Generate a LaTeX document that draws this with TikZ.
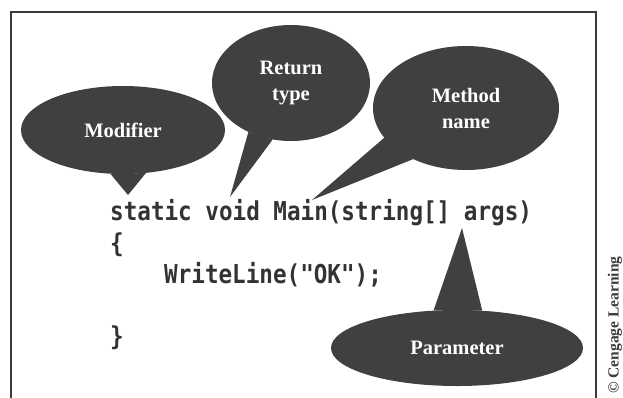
\documentclass[tikz,border=0pt]{standalone}
\usepackage{fontspec}
\setmainfont{Liberation Serif}
\newfontfamily\codefont{DejaVu Sans Mono}
\usetikzlibrary{shapes.geometric}
\definecolor{bubblecol}{HTML}{404040}
\definecolor{codecol}{HTML}{333333}
\definecolor{framecol}{HTML}{3A3A3A}
\tikzset{
  bubble/.style={ellipse, fill=bubblecol, inner sep=0pt, text=white, align=center,
    font=\fontsize{20.5}{26}\selectfont\bfseries},
  tail/.style={fill=bubblecol},
  codeline/.style={anchor=base west, inner sep=0pt, text=codecol,
    font=\fontsize{22.6}{28}\codefont\bfseries},
}
\begin{document}
\begin{tikzpicture}[x=1pt, y=-1pt]
\useasboundingbox (0,0) rectangle (623,397);
% frame
\draw[framecol, line width=1.3pt] (11,400) -- (11,12) -- (596,12) -- (596,400);
% code
\node[codeline] (l1) at (110,220) {\scalebox{1}[1.15]{static void Main(string[] args)}};
\node[codeline] (l2) at (110,252) {\scalebox{1}[1.15]{\{}};
\node[codeline] (l3) at (164,283) {\scalebox{1}[1.15]{WriteLine("OK");}};
\node[codeline] (l4) at (110,345) {\scalebox{1}[1.15]{\}}};
% tips
\coordinate (modtip) at (128,195);
\coordinate (rettip) at (230,197);
\coordinate (mettip) at (312,200);
\coordinate (partip) at (462,228);
% bubbles
\node[bubble, minimum width=204, minimum height=88] (mod) at (123,130) {Modifier};
\fill[tail] (mod.-106) -- (modtip) -- (mod.-62) -- cycle;
\node[bubble, minimum width=158, minimum height=116] (ret) at (291,83) {Return\\type};
\fill[tail] (ret.-131) -- (rettip) -- (ret.-108) -- cycle;
\node[bubble, minimum width=186, minimum height=124] (met) at (466,108) {Method\\name};
\fill[tail] (met.-160) -- (mettip) -- (met.-136) -- cycle;
\node[bubble, minimum width=252, minimum height=76] (par) at (457,348) {Parameter};
\fill[tail] (par.122) -- (partip) -- (par.56) -- cycle;
% credit
\node[rotate=90, anchor=base west, inner sep=0pt, text=framecol,
  font=\fontsize{15.5}{16}\selectfont\bfseries] (credit) at (618.5,394) {© Cengage Learning};
\end{tikzpicture}
\end{document}
